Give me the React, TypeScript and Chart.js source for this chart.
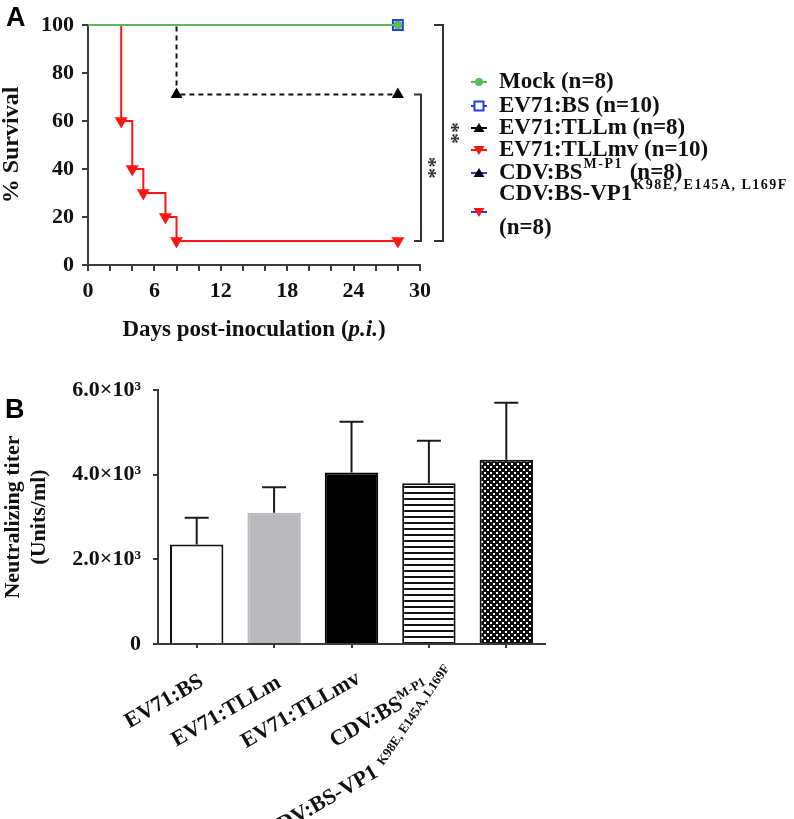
import React, { useEffect, useRef } from 'react';
import { Chart, registerables } from 'chart.js';

Chart.register(...registerables);

const SERIF = "'Liberation Serif', 'Times New Roman', Times, serif";
const SANS = "'Liberation Sans', Arial, Helvetica, sans-serif";
const GREEN = '#5cb85a';
const BLUE = '#1f3fe0';
const RED = '#ff1414';
const AXIS = '#3a3a3a';
const INK = '#111111';

// ---------- Panel A: survival ----------
const mockDays = [0, 28];
const mockSurvival = [100, 100];
const bsDays = [0, 28];
const bsSurvival = [100, 100];
const tllmDays = [0, 8, 28];
const tllmSurvival = [100, 71, 71];
const tllmvDays = [0, 3, 4, 5, 7, 8, 28];
const tllmvSurvival = [100, 60, 40, 30, 20, 10, 10];
const dayLabelTicks = [0, 6, 12, 18, 24, 30];

const legendBase = ['Mock', 'EV71:BS', 'EV71:TLLm', 'EV71:TLLmv', 'CDV:BS', 'CDV:BS-VP1'];
const legendSup = ['', '', '', '', 'M-P1', 'K98E, E145A, L169F'];
const legendTail = [' (n=8)', ' (n=10)', ' (n=8)', ' (n=10)', ' (n=8)', '(n=8)'];
const legendLineColor = [GREEN, BLUE, '#000000', RED, BLUE, BLUE];
const legendMarker = ['circle', 'square', 'tri', 'tridown', 'tri', 'tridown'];
const legendMarkerColor = [GREEN, BLUE, '#000000', RED, '#000000', RED];
const sigLabel = '**';

// ---------- Panel B: neutralizing titer ----------
const titerGroups = ['EV71:BS', 'EV71:TLLm', 'EV71:TLLmv', 'CDV:BS', 'CDV:BS-VP1'];
const titerGroupSup = ['', '', '', 'M-P1', 'K98E, E145A, L169F'];
const titerMean = [2350, 3100, 4050, 3800, 4350];
const titerSD = [630, 600, 1200, 1000, 1350];

const pts = (xs: number[], ys: number[]) => xs.map((x, i) => ({ x, y: ys[i] }));
const firstHidden = (xs: number[], r: number) => xs.map((_, i) => (i === 0 ? 0 : r));

function drawMarker(ctx: CanvasRenderingContext2D, kind: string, x: number, y: number, color: string) {
  ctx.save();
  ctx.fillStyle = color;
  ctx.strokeStyle = color;
  ctx.beginPath();
  if (kind === 'circle') {
    ctx.arc(x, y, 4, 0, Math.PI * 2);
    ctx.fill();
  } else if (kind === 'square') {
    ctx.fillStyle = '#ffffff';
    ctx.lineWidth = 2;
    ctx.rect(x - 4.5, y - 4.5, 9, 9);
    ctx.fill();
    ctx.stroke();
  } else if (kind === 'tri') {
    ctx.moveTo(x, y - 5);
    ctx.lineTo(x + 5.5, y + 4);
    ctx.lineTo(x - 5.5, y + 4);
    ctx.closePath();
    ctx.fill();
  } else {
    ctx.moveTo(x, y + 5);
    ctx.lineTo(x + 5.5, y - 4);
    ctx.lineTo(x - 5.5, y - 4);
    ctx.closePath();
    ctx.fill();
  }
  ctx.restore();
}

const panelAPlugin = {
  id: 'panelAExtras',
  afterDraw(chart: any) {
    const { ctx, chartArea } = chart;
    const y = chart.scales.y;
    ctx.save();
    // significance brackets
    const right = chartArea.right;
    const yTop = y.getPixelForValue(tllmSurvival[tllmSurvival.length - 1]);
    const yBot = y.getPixelForValue(tllmvSurvival[tllmvSurvival.length - 1]);
    const yFull = y.getPixelForValue(mockSurvival[mockSurvival.length - 1]);
    ctx.strokeStyle = '#333333';
    ctx.lineWidth = 2;
    ctx.beginPath();
    ctx.moveTo(right - 6, yTop);
    ctx.lineTo(right + 1, yTop);
    ctx.lineTo(right + 1, yBot);
    ctx.lineTo(right - 6, yBot);
    ctx.moveTo(right + 14, yFull);
    ctx.lineTo(right + 23, yFull);
    ctx.lineTo(right + 23, yBot);
    ctx.lineTo(right + 14, yBot);
    ctx.stroke();

    ctx.fillStyle = '#333333';
    ctx.font = `bold 22px ${SERIF}`;
    ctx.textAlign = 'center';
    ctx.textBaseline = 'middle';
    [[right + 8, (yTop + yBot) / 2], [right + 31, (yFull + yBot) / 2]].forEach(([cx, cy]) => {
      ctx.save();
      ctx.translate(cx, cy);
      ctx.rotate(Math.PI / 2);
      ctx.fillText(sigLabel, 0, 0);
      ctx.restore();
    });

    // legend
    const rowY = [82, 106, 128, 150, 173, 194];
    const mx = 479;
    const tx = 499;
    ctx.textAlign = 'left';
    ctx.textBaseline = 'middle';
    legendBase.forEach((base, i) => {
      const ly = rowY[i];
      const my = i === 5 ? 212 : ly;
      ctx.strokeStyle = legendLineColor[i];
      ctx.lineWidth = 2;
      ctx.beginPath();
      ctx.moveTo(mx - 8, my);
      ctx.lineTo(mx + 8, my);
      ctx.stroke();
      drawMarker(ctx, legendMarker[i], mx, my, legendMarkerColor[i]);

      ctx.fillStyle = INK;
      ctx.font = `bold 23px ${SERIF}`;
      ctx.fillText(base, tx, ly);
      let x = tx + ctx.measureText(base).width;
      if (legendSup[i]) {
        ctx.font = `bold 14px ${SERIF}`;
        (ctx as any).letterSpacing = '1.5px';
        ctx.fillText(legendSup[i], x + 1, ly - 9);
        x += ctx.measureText(legendSup[i]).width + 2;
        (ctx as any).letterSpacing = '0px';
      }
      ctx.font = `bold 23px ${SERIF}`;
      if (i === 5) ctx.fillText(legendTail[i], tx, 228);
      else ctx.fillText(legendTail[i], x, ly);
    });

    // x-axis title with italic p.i.
    const parts = [
      { t: 'Days post-inoculation (', f: `bold 23px ${SERIF}` },
      { t: 'p.i.', f: `italic bold 23px ${SERIF}` },
      { t: ')', f: `bold 23px ${SERIF}` },
    ];
    let total = 0;
    parts.forEach((p) => {
      ctx.font = p.f;
      total += ctx.measureText(p.t).width;
    });
    let px = (chartArea.left + chartArea.right) / 2 - total / 2;
    ctx.textBaseline = 'alphabetic';
    ctx.fillStyle = INK;
    parts.forEach((p) => {
      ctx.font = p.f;
      ctx.fillText(p.t, px, 336);
      px += ctx.measureText(p.t).width;
    });

    // panel letter
    ctx.font = `bold 27px ${SANS}`;
    ctx.fillStyle = '#000';
    ctx.fillText('A', 6, 26);
    ctx.restore();
  },
};

function makePattern(kind: 'stripes' | 'dots') {
  const tile = document.createElement('canvas');
  const c = tile.getContext('2d') as CanvasRenderingContext2D;
  tile.width = 6;
  tile.height = 6;
  if (kind === 'stripes') {
    c.fillStyle = '#ffffff';
    c.fillRect(0, 0, 6, 6);
    c.fillStyle = '#111111';
    c.fillRect(0, 0, 6, 2);
  } else {
    c.fillStyle = '#111111';
    c.fillRect(0, 0, 6, 6);
    c.fillStyle = '#ffffff';
    c.fillRect(1, 1, 2, 2);
    c.fillRect(4, 4, 2, 2);
  }
  const main = document.createElement('canvas').getContext('2d') as CanvasRenderingContext2D;
  return main.createPattern(tile, 'repeat') as CanvasPattern;
}

const panelBPlugin = {
  id: 'panelBExtras',
  afterDatasetsDraw(chart: any) {
    const { ctx } = chart;
    const y = chart.scales.y;
    const meta = chart.getDatasetMeta(0);
    ctx.save();
    ctx.strokeStyle = '#1a1a1a';
    ctx.lineWidth = 2;
    meta.data.forEach((bar: any, i: number) => {
      const y1 = y.getPixelForValue(titerMean[i] + titerSD[i]);
      ctx.beginPath();
      ctx.moveTo(bar.x, bar.y);
      ctx.lineTo(bar.x, y1);
      ctx.moveTo(bar.x - 12, y1);
      ctx.lineTo(bar.x + 12, y1);
      ctx.stroke();
    });
    ctx.restore();
  },
  afterDraw(chart: any) {
    const { ctx, chartArea } = chart;
    const xs = chart.scales.x;
    const axisY = chartArea.bottom;
    const baseFont = `bold 22px ${SERIF}`;
    const supFont = `bold 13px ${SERIF}`;
    // anchor offsets (baseline end of each rotated label) relative to its tick
    const anchor = [[8, 41], [8, 42], [10, 38], [2, 48]];
    ctx.save();
    ctx.fillStyle = INK;
    ctx.textAlign = 'left';
    ctx.textBaseline = 'alphabetic';
    titerGroups.forEach((lab, i) => {
      const tx = xs.getPixelForValue(i);
      const sup = titerGroupSup[i];
      ctx.font = baseFont;
      const wb = ctx.measureText(lab).width;
      ctx.font = supFont;
      const ws = sup ? ctx.measureText(sup).width : 0;
      if (i < 4) {
        ctx.save();
        ctx.translate(tx + anchor[i][0], axisY + anchor[i][1]);
        ctx.rotate(-Math.PI / 6);
        ctx.font = baseFont;
        ctx.fillText(lab, -(wb + ws), 0);
        if (sup) {
          ctx.font = supFont;
          ctx.fillText(sup, -ws, -9);
        }
        ctx.restore();
      } else {
        const ex = tx - 127;
        const ey = axisY + 132;
        ctx.save();
        ctx.translate(ex, ey);
        ctx.rotate(-Math.PI / 6);
        ctx.font = baseFont;
        ctx.fillText(lab, -wb, 0);
        ctx.restore();
        ctx.save();
        ctx.translate(ex + 4, ey - 10);
        ctx.rotate(-Math.PI * 0.31);
        ctx.font = supFont;
        ctx.fillText(sup, 0, 0);
        ctx.restore();
      }
    });
    ctx.font = `bold 27px ${SANS}`;
    ctx.fillStyle = '#000';
    ctx.fillText('B', 5, 58);
    ctx.restore();
  },
};

const tickFont = { family: SERIF, size: 22, weight: 'bold' as const };

export default function App() {
  const refA = useRef<HTMLCanvasElement>(null);
  const refB = useRef<HTMLCanvasElement>(null);

  useEffect(() => {
    const chartA = new Chart(refA.current as HTMLCanvasElement, {
      type: 'line',
      data: {
        datasets: [
          {
            label: 'Mock (n=8)',
            data: pts(mockDays, mockSurvival),
            borderColor: GREEN,
            borderWidth: 2,
            stepped: 'before',
            pointStyle: 'circle',
            pointRadius: firstHidden(mockDays, 4),
            pointBackgroundColor: GREEN,
            pointBorderColor: GREEN,
            pointBorderWidth: 1,
            clip: false,
          },
          {
            label: 'EV71:BS (n=10)',
            data: pts(bsDays, bsSurvival),
            borderColor: BLUE,
            borderWidth: 2,
            stepped: 'before',
            pointStyle: 'rect',
            pointRadius: firstHidden(bsDays, 7),
            pointBackgroundColor: '#ffffff',
            pointBorderColor: BLUE,
            pointBorderWidth: 2,
            clip: false,
          },
          {
            label: 'EV71:TLLm (n=8)',
            data: pts(tllmDays, tllmSurvival),
            borderColor: '#111111',
            borderWidth: 2,
            borderDash: [5, 4],
            stepped: 'before',
            pointStyle: 'triangle',
            pointRadius: firstHidden(tllmDays, 5),
            pointBackgroundColor: '#000000',
            pointBorderColor: '#000000',
            clip: false,
          },
          {
            label: 'EV71:TLLmv (n=10)',
            data: pts(tllmvDays, tllmvSurvival),
            borderColor: RED,
            borderWidth: 2,
            stepped: 'before',
            pointStyle: 'triangle',
            rotation: 180,
            pointRadius: firstHidden(tllmvDays, 5.5),
            pointBackgroundColor: RED,
            pointBorderColor: RED,
            clip: false,
          },
        ],
      },
      options: {
        responsive: false,
        maintainAspectRatio: false,
        animation: false,
        layout: { padding: { top: 25, right: 374, left: 0, bottom: 0 } },
        plugins: { legend: { display: false }, tooltip: { enabled: false } },
        scales: {
          x: {
            type: 'linear',
            min: 0,
            max: 30,
            ticks: {
              stepSize: 2,
              autoSkip: false,
              maxRotation: 0,
              padding: 7,
              color: INK,
              font: tickFont,
              callback: (v: any) => (dayLabelTicks.includes(Number(v)) ? String(v) : ''),
            },
            grid: { drawOnChartArea: false, drawTicks: true, tickLength: 6, color: AXIS, lineWidth: 2 },
            border: { color: AXIS, width: 2 },
            afterFit: (s: any) => {
              s.height = 95;
            },
          },
          y: {
            min: 0,
            max: 100,
            ticks: { stepSize: 20, padding: 8, color: INK, font: tickFont },
            grid: { drawOnChartArea: false, drawTicks: true, tickLength: 6, color: AXIS, lineWidth: 2 },
            border: { color: AXIS, width: 2 },
            title: {
              display: true,
              text: '% Survival',
              color: INK,
              font: { family: SERIF, size: 24, weight: 'bold', lineHeight: 1 },
              padding: 0,
            },
            afterFit: (s: any) => {
              s.width = 88;
            },
          },
        },
      },
      plugins: [panelAPlugin],
    } as any);

    const chartB = new Chart(refB.current as HTMLCanvasElement, {
      type: 'bar',
      data: {
        labels: titerGroups,
        datasets: [
          {
            label: 'Neutralizing titer',
            data: titerMean,
            backgroundColor: ['#ffffff', '#b9b9bd', '#000000', makePattern('stripes'), makePattern('dots')],
            borderColor: ['#111111', '#b9b9bd', '#000000', '#111111', '#111111'],
            borderWidth: 2,
            barPercentage: 0.69,
            categoryPercentage: 1,
          },
        ],
      },
      options: {
        responsive: false,
        maintainAspectRatio: false,
        animation: false,
        layout: { padding: { top: 30, right: 249, left: 0, bottom: 0 } },
        plugins: { legend: { display: false }, tooltip: { enabled: false } },
        scales: {
          x: {
            ticks: { color: 'rgba(0,0,0,0)', maxRotation: 0, autoSkip: false },
            grid: { offset: false, drawOnChartArea: false, drawTicks: true, tickLength: 4, color: AXIS, lineWidth: 2 },
            border: { color: AXIS, width: 2 },
            afterFit: (s: any) => {
              s.height = 175;
            },
          },
          y: {
            min: 0,
            max: 6000,
            ticks: {
              stepSize: 2000,
              padding: 12,
              color: INK,
              font: tickFont,
              callback: (v: any) => (Number(v) === 0 ? '0' : `${(Number(v) / 1000).toFixed(1)}×10³`),
            },
            grid: { drawOnChartArea: false, drawTicks: true, tickLength: 5, color: AXIS, lineWidth: 2 },
            border: { color: AXIS, width: 2 },
            title: {
              display: true,
              text: ['Neutralizing titer', '(Units/ml)'],
              color: INK,
              font: { family: SERIF, size: 22, weight: 'bold', lineHeight: 1.2 },
              padding: 0,
            },
            afterFit: (s: any) => {
              s.width = 158;
            },
          },
        },
      },
      plugins: [panelBPlugin],
    } as any);

    return () => {
      chartA.destroy();
      chartB.destroy();
    };
  }, []);

  return (
    <div style={{ position: 'absolute', left: 0, top: 0, width: 794, height: 819, background: '#fff', overflow: 'hidden' }}>
      <canvas
        ref={refA}
        width={794}
        height={360}
        style={{ position: 'absolute', left: 0, top: 0, width: 794, height: 360, display: 'block' }}
      />
      <canvas
        ref={refB}
        width={794}
        height={459}
        style={{ position: 'absolute', left: 0, top: 360, width: 794, height: 459, display: 'block' }}
      />
    </div>
  );
}
